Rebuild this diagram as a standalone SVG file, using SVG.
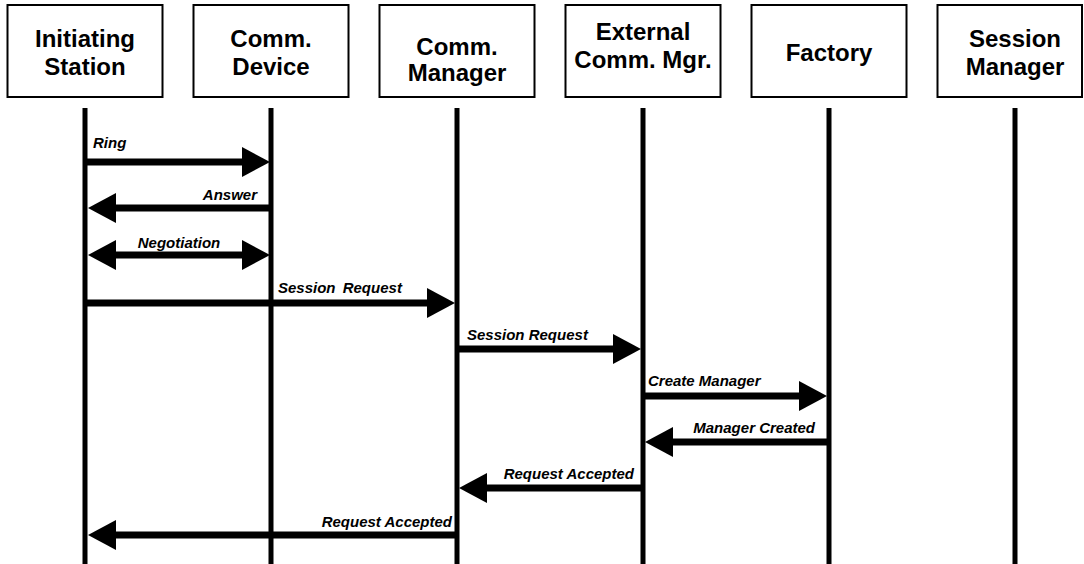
<svg xmlns="http://www.w3.org/2000/svg" width="1084" height="564" viewBox="0 0 1084 564">
  <style>
    .box { fill: #fff; stroke: #000; stroke-width: 2; }
    .name { font-family: "Liberation Sans", Arial, sans-serif; font-weight: bold; font-size: 24px; text-anchor: middle; fill: #000; }
    .life { stroke: #000; stroke-width: 5; }
    .msg { stroke: #000; stroke-width: 7; fill: none; }
    .lbl { font-family: "Liberation Sans", Arial, sans-serif; font-weight: bold; font-style: italic; font-size: 15px; fill: #000; }
    .end { text-anchor: end; }
    .mid { text-anchor: middle; }
  </style>
  <defs>
    <marker id="head" markerUnits="userSpaceOnUse" markerWidth="28" markerHeight="30" refX="18" refY="15" orient="auto-start-reverse" viewBox="0 0 28 30">
      <path d="M0,0 L28,15 L0,30 z" fill="#000"/>
    </marker>
  </defs>

  <rect width="1084" height="564" fill="#fff"/>

  <!-- participants -->
  <g id="initiating-station">
    <rect class="box" x="7.5" y="5" width="155" height="92"/>
    <text class="name" x="85" y="47">Initiating</text>
    <text class="name" x="85" y="75">Station</text>
    <line class="life" x1="85" y1="108" x2="85" y2="564"/>
  </g>
  <g id="comm-device">
    <rect class="box" x="193.5" y="5" width="155" height="92"/>
    <text class="name" x="271" y="47">Comm.</text>
    <text class="name" x="271" y="75">Device</text>
    <line class="life" x1="271" y1="108" x2="271" y2="564"/>
  </g>
  <g id="comm-manager">
    <rect class="box" x="379.5" y="5" width="155" height="92"/>
    <text class="name" x="457" y="55">Comm.</text>
    <text class="name" x="457" y="81">Manager</text>
    <line class="life" x1="457" y1="108" x2="457" y2="564"/>
  </g>
  <g id="external-comm-mgr">
    <rect class="box" x="565.5" y="5" width="155" height="92"/>
    <text class="name" x="643" y="40">External</text>
    <text class="name" x="643" y="68">Comm. Mgr.</text>
    <line class="life" x1="643" y1="108" x2="643" y2="564"/>
  </g>
  <g id="factory">
    <rect class="box" x="751.5" y="5" width="155" height="92"/>
    <text class="name" x="829" y="61">Factory</text>
    <line class="life" x1="829" y1="108" x2="829" y2="564"/>
  </g>
  <g id="session-manager">
    <rect class="box" x="937.5" y="5" width="144.5" height="92"/>
    <text class="name" x="1015" y="47">Session</text>
    <text class="name" x="1015" y="75">Manager</text>
    <line class="life" x1="1015" y1="108" x2="1015" y2="564"/>
  </g>

  <!-- messages -->
  <g id="connectors">
    <path class="msg" d="M85,162 H260" marker-end="url(#head)"/>
    <text class="lbl" x="93" y="148">Ring</text>

    <path class="msg" d="M271,208 H98" marker-end="url(#head)"/>
    <text class="lbl end" x="257" y="200">Answer</text>

    <path class="msg" d="M98,255 H260" marker-start="url(#head)" marker-end="url(#head)"/>
    <text class="lbl mid" x="179" y="248">Negotiation</text>

    <path class="msg" d="M85,303 H445" marker-end="url(#head)"/>
    <text class="lbl" x="278" y="293" word-spacing="3">Session Request</text>

    <path class="msg" d="M457,349 H631" marker-end="url(#head)"/>
    <text class="lbl" x="467" y="340">Session Request</text>

    <path class="msg" d="M643,396 H817" marker-end="url(#head)"/>
    <text class="lbl" x="648" y="386">Create Manager</text>

    <path class="msg" d="M829,442 H655" marker-end="url(#head)"/>
    <text class="lbl end" x="815" y="433">Manager Created</text>

    <path class="msg" d="M643,488 H469" marker-end="url(#head)"/>
    <text class="lbl end" x="634" y="479">Request Accepted</text>

    <path class="msg" d="M457,535 H98" marker-end="url(#head)"/>
    <text class="lbl end" x="452" y="527">Request Accepted</text>
  </g>
</svg>
